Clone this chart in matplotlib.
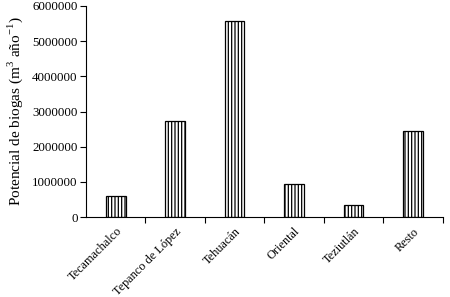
import numpy as np
import matplotlib
matplotlib.use("Agg")
import matplotlib.pyplot as plt

regiones = ["Tecamachalco", "Tepanco de López", "Tehuacán", "Oriental", "Teziutlán", "Resto"]
biogas = [600000, 2740000, 5570000, 950000, 335000, 2440000]
yticks = [0, 1000000, 2000000, 3000000, 4000000, 5000000, 6000000]

plt.rcParams["font.family"] = ["Liberation Serif", "DejaVu Serif"]
plt.rcParams["mathtext.fontset"] = "custom"
plt.rcParams["mathtext.rm"] = "Liberation Serif"
plt.rcParams["hatch.linewidth"] = 0.9

fig = plt.figure(figsize=(4.5, 2.97), dpi=100)
ax = fig.add_axes([0.191, 0.269, 0.793, 0.711])

x = np.arange(len(regiones))
ax.bar(x, biogas, width=0.33, color="white", edgecolor="black", linewidth=0.9, hatch="|||||")

ax.set_xlim(-0.5, len(regiones) - 0.5)
ax.set_ylim(0, 6000000)
ax.set_yticks(yticks)
ax.set_yticklabels([str(v) for v in yticks], fontsize=9.3)
ax.set_xticks(x)
ax.set_xticklabels(regiones, rotation=45, ha="right", rotation_mode="anchor", fontsize=8.8)
ax.tick_params(axis="x", which="major", length=0, pad=6)
ax.set_xticks(np.arange(len(regiones)) + 0.5, minor=True)
ax.tick_params(axis="x", which="minor", length=4, width=0.8)
ax.tick_params(axis="y", length=4, width=0.8, pad=2)

for s in ["top", "right"]:
    ax.spines[s].set_visible(False)
ax.spines["left"].set_linewidth(0.8)
ax.spines["bottom"].set_linewidth(0.8)

ax.set_ylabel(r"Potencial de biogas (m$^{\mathrm{3}}$ año$^{\mathrm{-1}}$)", fontsize=11)
ax.yaxis.set_label_coords(-0.172, 0.5)

fig.savefig("out.png", dpi=100)
